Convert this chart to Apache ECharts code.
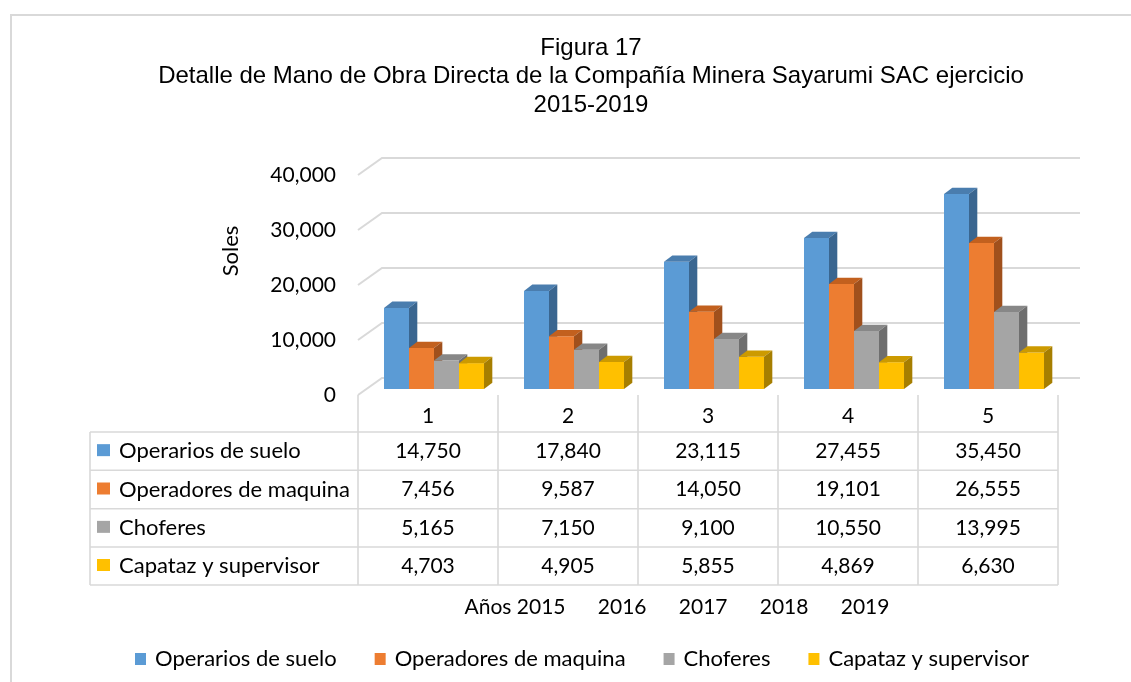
<!DOCTYPE html>
<html><head><meta charset="utf-8">
<script src="https://cdn.jsdelivr.net/npm/echarts@6/dist/echarts.min.js"></script>
<style>html,body{margin:0;padding:0;background:#fff}#c{width:1131px;height:682px}</style>
</head><body><div id="c"></div>
<script>
// ---- data ----
const categories = ['1', '2', '3', '4', '5'];
const seriesNames = ['Operarios de suelo', 'Operadores de maquina', 'Choferes', 'Capataz y supervisor'];
const operariosSuelo = [14750, 17840, 23115, 27455, 35450];
const operadoresMaquina = [7456, 9587, 14050, 19101, 26555];
const choferes = [5165, 7150, 9100, 10550, 13995];
const capataz = [4703, 4905, 5855, 4869, 6630];
const yTicks = [0, 10000, 20000, 30000, 40000];
const years = ['2015', '2016', '2017', '2018', '2019'];
const titleLines = ['Figura 17', 'Detalle de Mano de Obra Directa de la Compañía Minera Sayarumi SAC ejercicio', '2015-2019'];
const yAxisTitle = 'Soles';
const xAxisTitlePrefix = 'Años';

// ---- styles ----
const colors = ['#5B9BD5', '#ED7D31', '#A5A5A5', '#FFC000'];
const topColors = ['#4A7DAE', '#C2601E', '#878787', '#CC9A00'];
const sideColors = ['#3A6690', '#A0501C', '#6E6E6E', '#A67E00'];
const allValues = [operariosSuelo, operadoresMaquina, choferes, capataz];
const FONT = 'Lato';
const GRIDC = '#d9d9d9';
const fmt = v => Number(v).toLocaleString('en-US');

const chart = echarts.init(document.getElementById('c'), null, {renderer: 'canvas'});

// 3D geometry (pixels)
const WALL_DX = 24, WALL_DY = 17;   // back wall offset
const BAR_SX = 8.5, BAR_SY = 6;     // bar plane offset from front plane
const BAR_DX = 8.3, BAR_DY = 6.3;   // bar depth
const ROWS_Y = [395, 432, 470.3, 508.7, 547, 585];

function gridRender(params, api) {
  const v = api.value(1);
  const p = api.coord([0, v]);
  const cs = params.coordSys;
  const y = p[1];
  return {
    type: 'polyline', silent: true,
    shape: {points: [[cs.x, y], [cs.x + WALL_DX, y - WALL_DY], [cs.x + cs.width + 22, y - WALL_DY]]},
    style: {stroke: GRIDC, lineWidth: 2, fill: null}
  };
}

function barRender(k) {
  return function (params, api) {
    const cat = api.value(0), v = api.value(1);
    const base = api.coord([cat, 0]);
    const top = api.coord([cat, v]);
    const bw = api.size([1, 0])[0];
    const catLeft = base[0] - bw / 2;
    const w = bw * 0.1786;
    const x0 = catLeft + bw * 0.1857 + k * w;
    const yb = base[1] - BAR_SY;
    const yt = top[1] - BAR_SY;
    return {
      type: 'group',
      children: [
        {type: 'rect', shape: {x: x0, y: yt, width: w, height: yb - yt}, style: {fill: colors[k]}},
        {type: 'polygon', shape: {points: [[x0, yt], [x0 + w, yt], [x0 + w + BAR_DX, yt - BAR_DY], [x0 + BAR_DX, yt - BAR_DY]]}, style: {fill: topColors[k]}},
        {type: 'polygon', shape: {points: [[x0 + w, yt], [x0 + w + BAR_DX, yt - BAR_DY], [x0 + w + BAR_DX, yb - BAR_DY], [x0 + w, yb]]}, style: {fill: sideColors[k]}}
      ]
    };
  };
}

function tableRender(params, api) {
  const idx = api.value(0);
  const c = api.coord([idx, 0]);
  const bw = api.size([1, 0])[0];
  const left = c[0] - bw / 2, right = c[0] + bw / 2;
  const ls = {stroke: GRIDC, lineWidth: 1.6};
  const ch = [];
  ch.push({type: 'line', shape: {x1: right, y1: ROWS_Y[0], x2: right, y2: ROWS_Y[5]}, style: ls});
  for (let r = 1; r < ROWS_Y.length; r++) {
    ch.push({type: 'line', shape: {x1: left, y1: ROWS_Y[r], x2: right, y2: ROWS_Y[r]}, style: ls});
  }
  ch.push({type: 'text', style: {text: categories[idx], x: c[0], y: (ROWS_Y[0] + ROWS_Y[1]) / 2 + 3, textAlign: 'center', textVerticalAlign: 'middle', font: '21px ' + FONT, fill: '#000'}});
  for (let r = 0; r < 4; r++) {
    ch.push({type: 'text', style: {text: fmt(allValues[r][idx]), x: c[0], y: (ROWS_Y[r + 1] + ROWS_Y[r + 2]) / 2, textAlign: 'center', textVerticalAlign: 'middle', font: '21px ' + FONT, fill: '#000'}});
  }
  if (idx === 0) {
    const tl = 90;
    ch.push({type: 'line', shape: {x1: left, y1: ROWS_Y[0], x2: left, y2: ROWS_Y[5]}, style: ls});
    ch.push({type: 'line', shape: {x1: tl, y1: ROWS_Y[1], x2: tl, y2: ROWS_Y[5]}, style: ls});
    for (let r = 1; r < ROWS_Y.length; r++) {
      ch.push({type: 'line', shape: {x1: tl, y1: ROWS_Y[r], x2: left, y2: ROWS_Y[r]}, style: ls});
    }
    for (let r = 0; r < 4; r++) {
      const yc = (ROWS_Y[r + 1] + ROWS_Y[r + 2]) / 2;
      ch.push({type: 'rect', shape: {x: 97, y: yc - 7, width: 13, height: 12}, style: {fill: colors[r]}});
      ch.push({type: 'text', style: {text: seriesNames[r], x: 119, y: yc, textAlign: 'left', textVerticalAlign: 'middle', font: '22px ' + FONT, fill: '#000'}});
    }
  }
  return {type: 'group', children: ch};
}

const series = [
  {type: 'custom', name: '_grid', renderItem: gridRender, data: yTicks.map(v => [0, v]), z: 1, silent: true, clip: false}
];
seriesNames.forEach((n, k) => {
  series.push({
    type: 'custom', name: n, renderItem: barRender(k), itemStyle: {color: colors[k]},
    data: categories.map((c, i) => [i, allValues[k][i]]), z: 3, clip: false
  });
});
series.push({type: 'custom', name: '_table', renderItem: tableRender, data: categories.map((c, i) => [i, 0]), z: 4, silent: true, clip: false});

chart.setOption({
  animation: false,
  backgroundColor: '#fff',
  title: {
    text: titleLines.join('\n'), left: 586, top: 29, textAlign: 'center',
    textStyle: {fontFamily: 'Liberation Sans', fontSize: 24, fontWeight: 'normal', lineHeight: 28.5, color: '#000'}
  },
  grid: {left: 358, right: 73, top: 175, bottom: 287, containLabel: false},
  xAxis: {type: 'category', data: categories, axisLine: {show: false}, axisTick: {show: false}, axisLabel: {show: false}, splitLine: {show: false}},
  yAxis: {
    type: 'value', min: 0, max: 40000, interval: 10000,
    axisLine: {show: false}, axisTick: {show: false}, splitLine: {show: false},
    axisLabel: {formatter: v => fmt(v), fontFamily: FONT, fontSize: 21, color: '#000', margin: 22}
  },
  legend: {
    data: seriesNames, left: 130, top: 643, icon: 'rect', itemWidth: 11, itemHeight: 12, itemGap: 38,
    textStyle: {fontFamily: FONT, fontSize: 22, color: '#000', padding: [0, 0, 0, 4]}
  },
  graphic: [
    {type: 'rect', shape: {x: 11, y: 15, width: 1300, height: 900}, style: {fill: null, stroke: GRIDC, lineWidth: 2}, silent: true, z: 0},
    {type: 'text', x: 231, y: 251, rotation: Math.PI / 2, style: {text: yAxisTitle, font: '22px ' + FONT, fill: '#000', textAlign: 'center', textVerticalAlign: 'middle'}},
    {type: 'text', x: 677, y: 607, style: {text: xAxisTitlePrefix + ' ' + years.join('      '), font: '21px ' + FONT, fill: '#000', textAlign: 'center', textVerticalAlign: 'middle'}}
  ],
  series: series
});
</script></body></html>
